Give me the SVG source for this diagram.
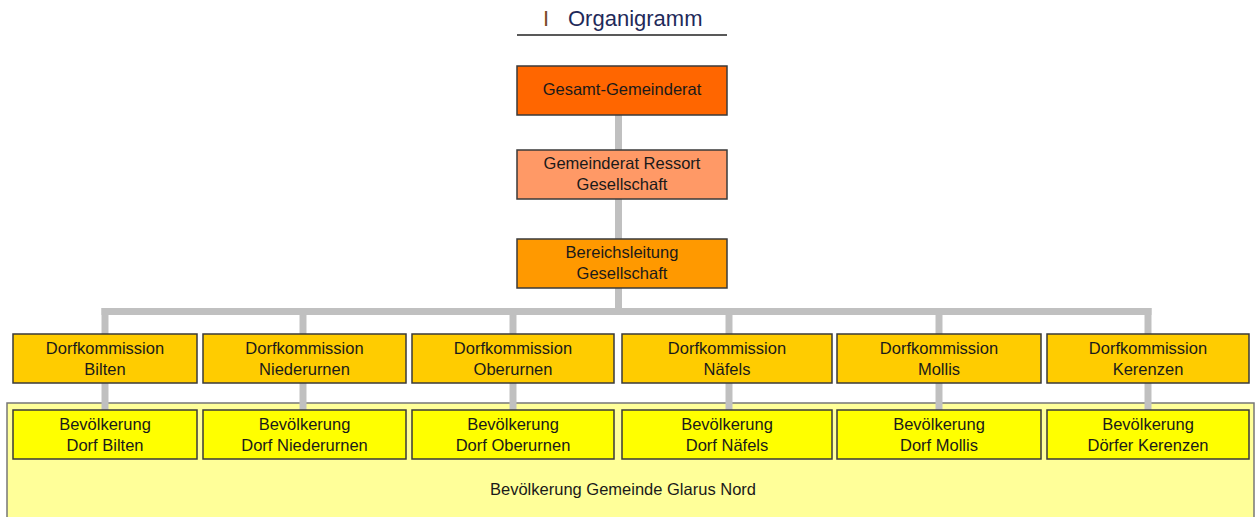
<svg xmlns="http://www.w3.org/2000/svg" width="1259" height="517" viewBox="0 0 1259 517">
<style>
.t{font-family:"Liberation Sans",Arial,sans-serif;font-size:16.5px;fill:#1a1a1a;text-anchor:middle}
.h{font-family:"Liberation Sans",Arial,sans-serif;font-size:22px}
.b{stroke:#3a3a3a;stroke-width:1.5}
.c{stroke:#c0c0c0;stroke-width:7;fill:none}
</style>
<rect width="1259" height="517" fill="#ffffff"/>
<g id="title">
<text class="h" x="543" y="26" fill="#7a4a2a">I</text>
<text class="h" x="568" y="26" fill="#1f2a5a">Organigramm</text>
<line x1="517" y1="35" x2="727" y2="35" stroke="#222" stroke-width="1.5"/>
</g>
<g id="gemeinde">
<rect x="7" y="403" width="1247" height="120" fill="#ffff99" stroke="#777" stroke-width="1.5"/>
<text class="t" x="623" y="495">Bevölkerung Gemeinde Glarus Nord</text>
</g>
<g id="connectors">
<line class="c" x1="618.5" y1="115" x2="618.5" y2="312"/>
<line class="c" x1="101.5" y1="311.5" x2="1151.5" y2="311.5"/>
<line class="c" x1="105" y1="308" x2="105" y2="410"/>
<line class="c" x1="303" y1="308" x2="303" y2="410"/>
<line class="c" x1="513" y1="308" x2="513" y2="410"/>
<line class="c" x1="729" y1="308" x2="729" y2="410"/>
<line class="c" x1="939" y1="308" x2="939" y2="410"/>
<line class="c" x1="1148" y1="308" x2="1148" y2="410"/>
</g>
<g id="gesamt">
<rect class="b" x="517" y="66" width="210" height="49" fill="#ff6600"/>
<text class="t" x="622" y="95">Gesamt-Gemeinderat</text>
</g>
<g id="ressort">
<rect class="b" x="517" y="150" width="210" height="49" fill="#ff9966"/>
<text class="t" x="622" y="169">Gemeinderat Ressort</text>
<text class="t" x="622" y="190">Gesellschaft</text>
</g>
<g id="bereich">
<rect class="b" x="517" y="239" width="210" height="49" fill="#ff9900"/>
<text class="t" x="622" y="258">Bereichsleitung</text>
<text class="t" x="622" y="279">Gesellschaft</text>
</g>
<g id="dk-bilten">
<rect class="b" x="13" y="334" width="184" height="49" fill="#ffcc00"/>
<text class="t" x="105" y="354">Dorfkommission</text>
<text class="t" x="105" y="375">Bilten</text>
</g>
<g id="dk-niederurnen">
<rect class="b" x="203" y="334" width="203" height="49" fill="#ffcc00"/>
<text class="t" x="304.5" y="354">Dorfkommission</text>
<text class="t" x="304.5" y="375">Niederurnen</text>
</g>
<g id="dk-oberurnen">
<rect class="b" x="412" y="334" width="202" height="49" fill="#ffcc00"/>
<text class="t" x="513" y="354">Dorfkommission</text>
<text class="t" x="513" y="375">Oberurnen</text>
</g>
<g id="dk-naefels">
<rect class="b" x="622" y="334" width="210" height="49" fill="#ffcc00"/>
<text class="t" x="727" y="354">Dorfkommission</text>
<text class="t" x="727" y="375">Näfels</text>
</g>
<g id="dk-mollis">
<rect class="b" x="837" y="334" width="204" height="49" fill="#ffcc00"/>
<text class="t" x="939" y="354">Dorfkommission</text>
<text class="t" x="939" y="375">Mollis</text>
</g>
<g id="dk-kerenzen">
<rect class="b" x="1047" y="334" width="202" height="49" fill="#ffcc00"/>
<text class="t" x="1148" y="354">Dorfkommission</text>
<text class="t" x="1148" y="375">Kerenzen</text>
</g>
<g id="bv-bilten">
<rect class="b" x="13" y="410" width="184" height="49" fill="#ffff00"/>
<text class="t" x="105" y="430">Bevölkerung</text>
<text class="t" x="105" y="451">Dorf Bilten</text>
</g>
<g id="bv-niederurnen">
<rect class="b" x="203" y="410" width="203" height="49" fill="#ffff00"/>
<text class="t" x="304.5" y="430">Bevölkerung</text>
<text class="t" x="304.5" y="451">Dorf Niederurnen</text>
</g>
<g id="bv-oberurnen">
<rect class="b" x="412" y="410" width="202" height="49" fill="#ffff00"/>
<text class="t" x="513" y="430">Bevölkerung</text>
<text class="t" x="513" y="451">Dorf Oberurnen</text>
</g>
<g id="bv-naefels">
<rect class="b" x="622" y="410" width="210" height="49" fill="#ffff00"/>
<text class="t" x="727" y="430">Bevölkerung</text>
<text class="t" x="727" y="451">Dorf Näfels</text>
</g>
<g id="bv-mollis">
<rect class="b" x="837" y="410" width="204" height="49" fill="#ffff00"/>
<text class="t" x="939" y="430">Bevölkerung</text>
<text class="t" x="939" y="451">Dorf Mollis</text>
</g>
<g id="bv-kerenzen">
<rect class="b" x="1047" y="410" width="202" height="49" fill="#ffff00"/>
<text class="t" x="1148" y="430">Bevölkerung</text>
<text class="t" x="1148" y="451">Dörfer Kerenzen</text>
</g>
</svg>
